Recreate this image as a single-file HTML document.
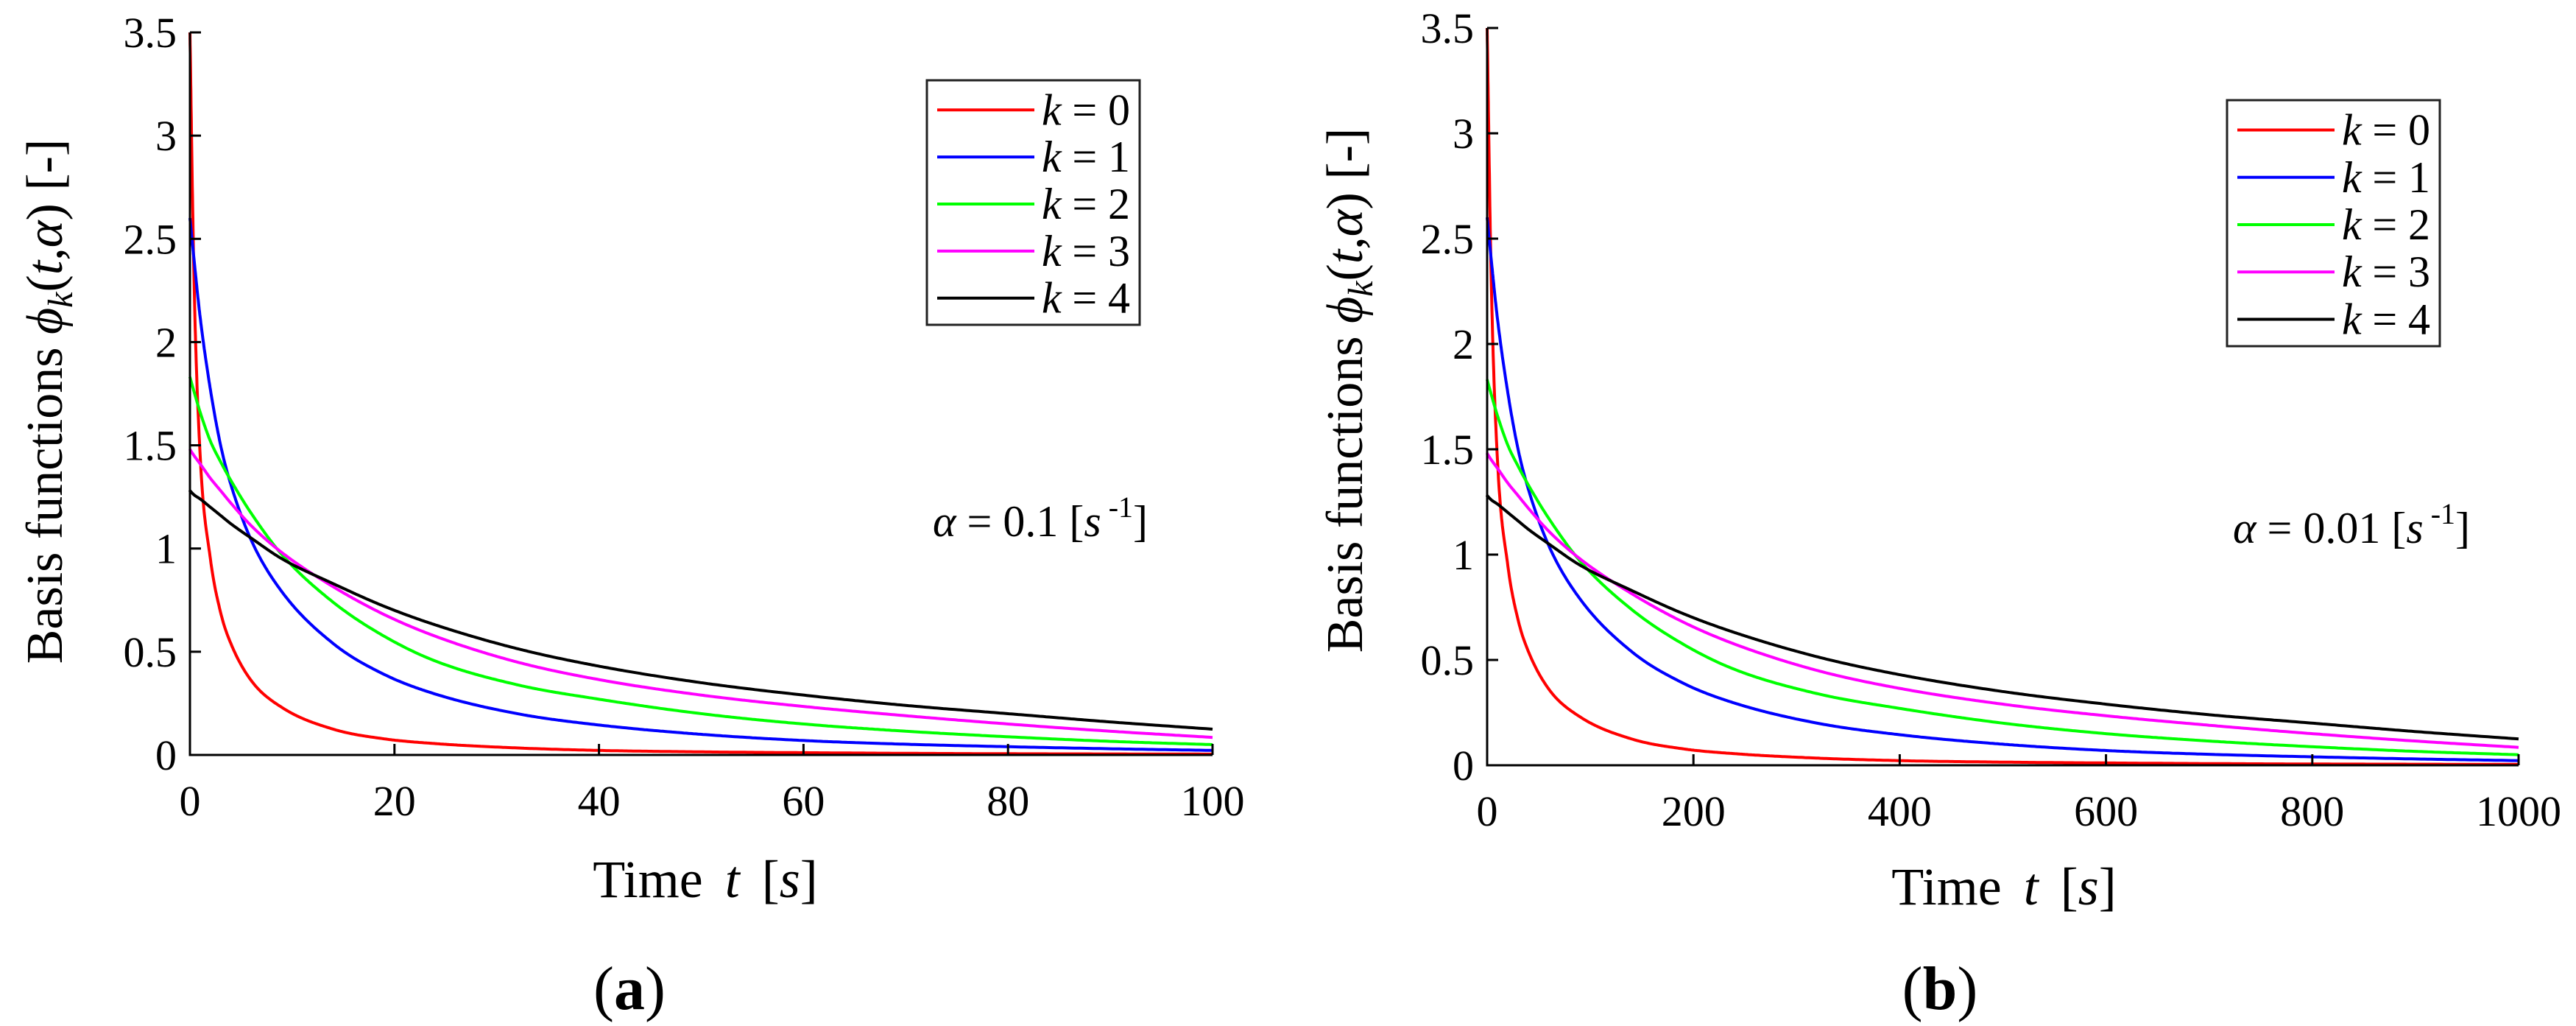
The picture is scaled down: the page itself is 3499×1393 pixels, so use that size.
<!DOCTYPE html>
<html><head><meta charset="utf-8"><style>
html,body{margin:0;padding:0;background:#fff;}
svg{display:block;font-family:"Liberation Serif",serif;}
</style></head><body>
<svg id="fig" width="3499" height="1393" viewBox="0 0 3499 1393"></svg>
<script>
// Data
const tA = [0,0.4,1,2,3,4,6,9,14,19,24,32,40,50,60,70,80,90,100];
const tB = [0,4,10,20,30,40,60,90,140,190,240,320,400,500,600,700,800,900,1000];
const phi0 = [3.5,2.3,1.45,0.95,0.69,0.54,0.36,0.23,0.125,0.078,0.055,0.034,0.022,0.015,0.011,0.008,0.006,0.005,0.004];
const phi1 = [2.6,2.4,2.12,1.77,1.5,1.31,1.04,0.79,0.54,0.39,0.295,0.2,0.145,0.1,0.07,0.052,0.04,0.03,0.022];
const phi2 = [1.83,1.76,1.66,1.52,1.42,1.33,1.17,0.97,0.74,0.575,0.455,0.34,0.27,0.2,0.15,0.115,0.088,0.066,0.05];
const phi3 = [1.48,1.45,1.41,1.34,1.28,1.22,1.11,0.98,0.815,0.68,0.575,0.45,0.365,0.29,0.235,0.19,0.15,0.115,0.085];
const phi4 = [1.28,1.26,1.24,1.2,1.16,1.12,1.05,0.95,0.83,0.72,0.63,0.515,0.43,0.35,0.29,0.24,0.2,0.16,0.125];
const yTicks = [0,0.5,1,1.5,2,2.5,3,3.5];
const yTickLabels = ["0","0.5","1","1.5","2","2.5","3","3.5"];
const xTicksA = [0,20,40,60,80,100];
const xTicksB = [0,200,400,600,800,1000];
const seriesNames = ["k = 0","k = 1","k = 2","k = 3","k = 4"];
const colors = ["#ff0000","#0000ff","#00ff00","#ff00ff","#000000"];

const NS="http://www.w3.org/2000/svg";
const svg=document.getElementById('fig');
function mk(tag,attrs,parent){const e=document.createElementNS(NS,tag);for(const k in attrs)e.setAttribute(k,attrs[k]);(parent||svg).appendChild(e);return e;}

function monotone(xs,ys){
 const n=xs.length,d=[],m=new Array(n);
 for(let i=0;i<n-1;i++)d.push((ys[i+1]-ys[i])/(xs[i+1]-xs[i]));
 m[0]=d[0];m[n-1]=d[n-2];
 for(let i=1;i<n-1;i++){m[i]=(d[i-1]*d[i]<=0)?0:(d[i-1]+d[i])/2;}
 for(let i=0;i<n-1;i++){
  if(d[i]===0){m[i]=0;m[i+1]=0;continue;}
  const a=m[i]/d[i],b=m[i+1]/d[i],s=a*a+b*b;
  if(s>9){const t=3/Math.sqrt(s);m[i]=t*a*d[i];m[i+1]=t*b*d[i];}
 }
 return x=>{
  let i=0;while(i<n-2&&x>xs[i+1])i++;
  const h=xs[i+1]-xs[i],t=(x-xs[i])/h,t2=t*t,t3=t2*t;
  return (2*t3-3*t2+1)*ys[i]+(t3-2*t2+t)*h*m[i]+(-2*t3+3*t2)*ys[i+1]+(t3-t2)*h*m[i+1];
 };
}

const panels=[
 {id:'a',x0:258,x1:1647,y0:1025,y1:44,xmax:100,t:tA,xt:xTicksA,leg:[1259,109,1548,441],alpha:'0.1',ax:1267,ay:728,cap:'a',capx:855,ylx:62,yly:545,xlx:958,xly:1218},
 {id:'b',x0:2020,x1:3421,y0:1039,y1:38,xmax:1000,t:tB,xt:xTicksB,leg:[3025,136,3314,470],alpha:'0.01',ax:3033,ay:737,cap:'b',capx:2635,ylx:1828,yly:530,xlx:2722,xly:1228}
];
const allSeries=[phi0,phi1,phi2,phi3,phi4];

panels.forEach(p=>{
 const g=mk('g',{});
 
 
 const sx=v=>p.x0+(v/p.xmax)*(p.x1-p.x0);
 const sy=v=>p.y0-(v/3.5)*(p.y0-p.y1);
 allSeries.forEach((s,i)=>{
  const f=monotone(p.t,s);
  let d='';
  const N=600;
  for(let j=0;j<=N;j++){
   const u=j/N, tv=p.xmax*Math.pow(u,2);
   d+=(j?'L':'M')+sx(tv).toFixed(1)+' '+sy(Math.max(0,f(tv))).toFixed(1);
  }
  const path=mk('path',{d:d,fill:'none',stroke:colors[i],'stroke-width':4,'stroke-linejoin':'round'},g);
  
  
 });
 const ax=mk('path',{d:`M${p.x0} ${p.y1}L${p.x0} ${p.y0}L${p.x1} ${p.y0}`,fill:'none',stroke:'#000','stroke-width':3},g);
 
 
 yTicks.forEach((v,i)=>{
  mk('line',{x1:p.x0,x2:p.x0+15,y1:sy(v),y2:sy(v),stroke:'#000','stroke-width':3},g);
  const t=mk('text',{x:p.x0-18,y:sy(v)+20,'text-anchor':'end','font-size':58},g);
  t.textContent=yTickLabels[i];
  
  
 });
 p.xt.forEach(v=>{
  mk('line',{x1:sx(v),x2:sx(v),y1:p.y0,y2:p.y0-15,stroke:'#000','stroke-width':3},g);
  const t=mk('text',{x:sx(v),y:p.y0+82,'text-anchor':'middle','font-size':58},g);
  t.textContent=String(v);
  
  
 });
 const xl=mk('text',{x:p.xlx,y:p.xly,'text-anchor':'middle','font-size':72},g);
 xl.innerHTML='Time<tspan dx="30" font-style="italic">t</tspan><tspan dx="30">[</tspan><tspan font-style="italic">s</tspan>]';
 
 
 const yl=mk('text',{x:0,y:0,'text-anchor':'middle','font-size':70,transform:`translate(${p.ylx+22},${p.yly}) rotate(-90)`},g);
 yl.innerHTML='Basis functions <tspan font-style="italic">ϕ</tspan><tspan font-style="italic" font-size="48" dy="14">k</tspan><tspan dy="-14">(</tspan><tspan font-style="italic">t</tspan>,<tspan font-style="italic">α</tspan>) [-]';
 
 
 const [lx0,ly0,lx1,ly1]=p.leg;
 const lg=mk('g',{},g);
 
 
 mk('rect',{x:lx0,y:ly0,width:lx1-lx0,height:ly1-ly0,fill:'#fff',stroke:'#222','stroke-width':3},lg);
 const rowH=(ly1-ly0)/5.2;
 seriesNames.forEach((n,i)=>{
  const cy=ly0+rowH*(0.6+i)+2;
  const e=mk('g',{},lg);
  
  
  mk('line',{x1:lx0+14,x2:lx0+146,y1:cy,y2:cy,stroke:colors[i],'stroke-width':4},e);
  const t=mk('text',{x:lx0+156,y:cy+20,'font-size':60,'textLength':120},e);
  t.innerHTML='<tspan font-style="italic">k</tspan> = '+n.split('= ')[1];
 });
 const at=mk('text',{x:p.ax,y:p.ay,'font-size':60},g);
 at.innerHTML='<tspan font-style="italic">α</tspan> = '+p.alpha+' [<tspan font-style="italic">s</tspan><tspan font-size="40" dy="-26"> -1</tspan><tspan dy="26">]</tspan>';
 
 
 const c=mk('text',{x:p.capx,y:1370,'text-anchor':'middle','font-size':84},g);
 c.innerHTML='(<tspan font-weight="bold">'+p.cap+'</tspan>)';
 
 
});
</script>
</body></html>
